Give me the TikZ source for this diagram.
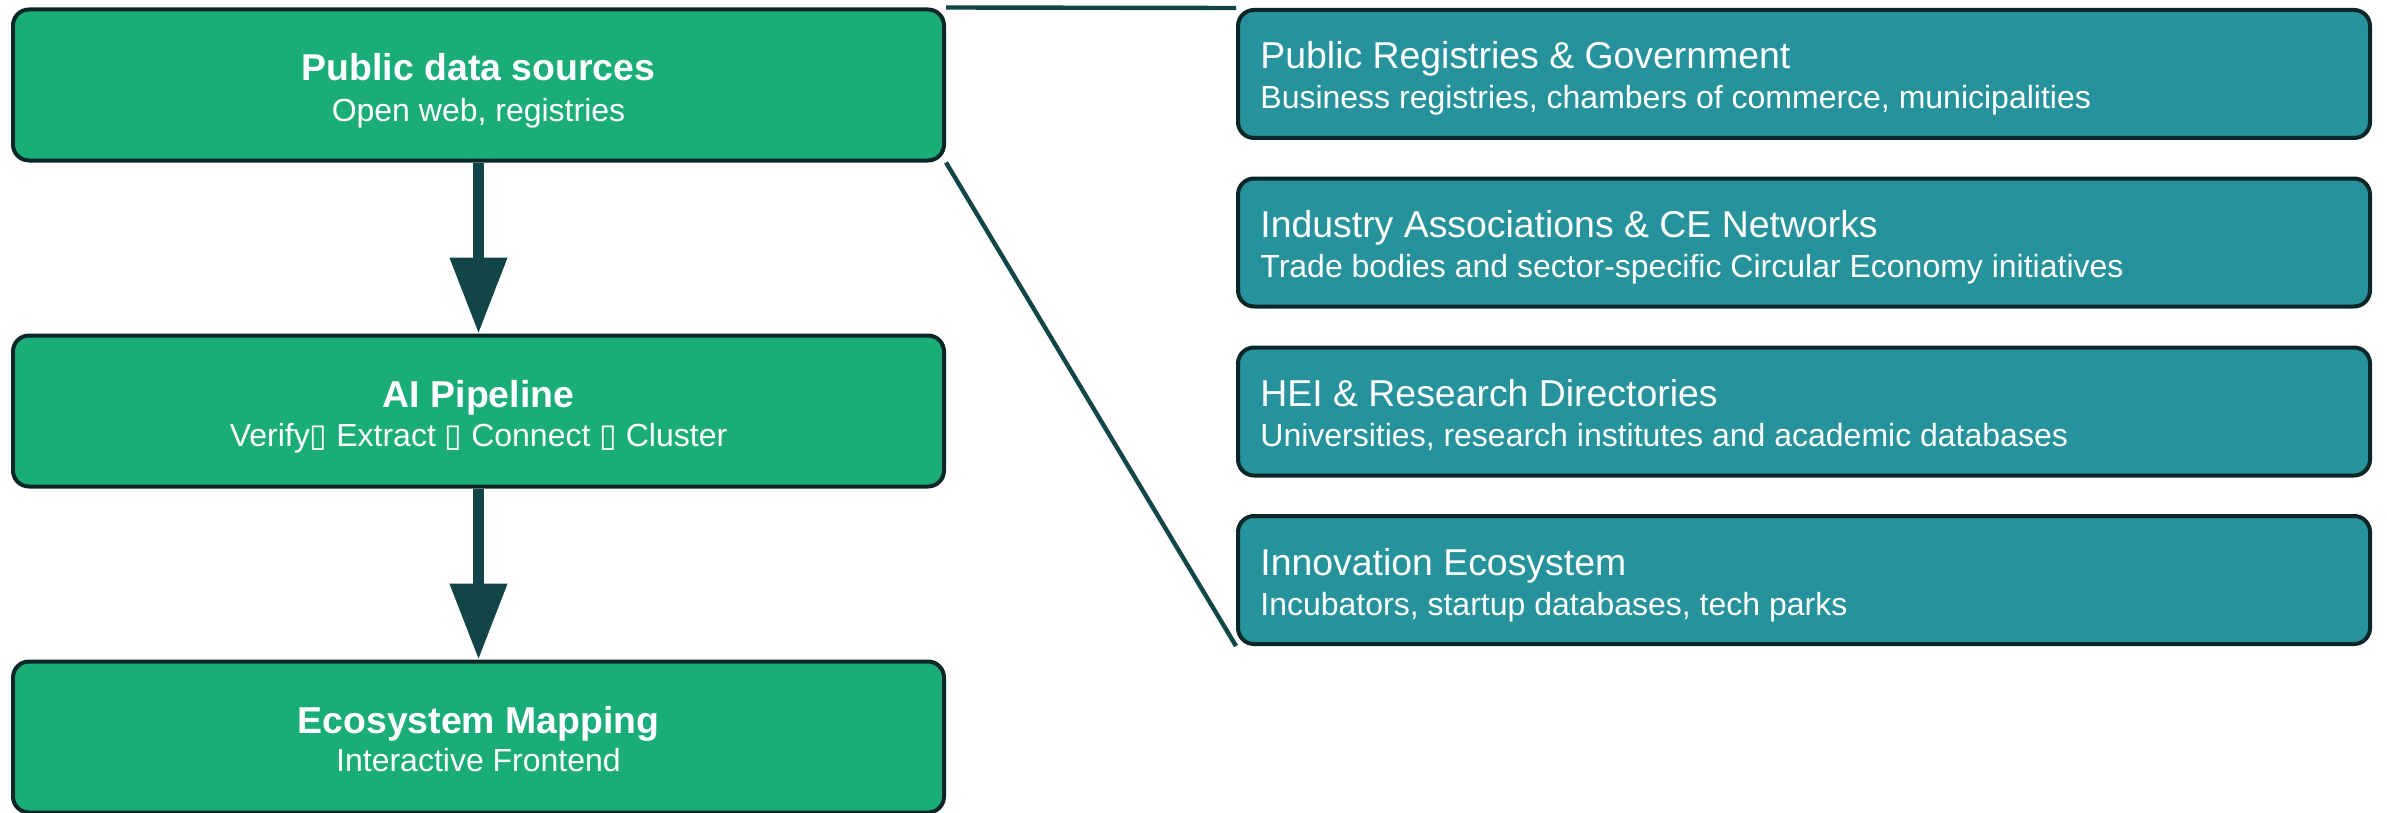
\documentclass[tikz,border=0pt]{standalone}
\usepackage{fontspec}
\setmainfont{Liberation Sans}
\newfontfamily\symfont{DejaVu Sans}
\usetikzlibrary{arrows.meta}
\definecolor{gfill}{HTML}{1AAD77}
\definecolor{tfill}{HTML}{25929C}
\definecolor{bord}{HTML}{0A2626}
\definecolor{conn}{HTML}{114547}
\tikzset{
  gbox/.style={draw=bord, fill=gfill, line width=2pt, rounded corners=8pt,
    minimum width=465.5pt, minimum height=75.5pt, inner sep=0pt},
  tbox/.style={draw=bord, fill=tfill, line width=2pt, rounded corners=8pt,
    minimum width=566pt, minimum height=64pt, inner sep=0pt},
  gtitle/.style={text=white, anchor=base, font=\fontsize{18.7}{22}\selectfont\bfseries, inner sep=0pt},
  gsub/.style={text=white, anchor=base, font=\fontsize{16}{19}\selectfont, inner sep=0pt},
  ttitle/.style={text=white, anchor=base west, font=\fontsize{18.7}{22}\selectfont, inner sep=0pt},
  tsub/.style={text=white, anchor=base west, font=\fontsize{16}{19}\selectfont, inner sep=0pt},
  flow/.style={draw=conn, line width=5.5pt, -{Triangle[length=38pt,width=27.5pt]}},
  zoomline/.style={draw=conn, line width=2.2pt},
}
\begin{document}
\begin{tikzpicture}[x=0.5pt,y=-0.5pt]
\useasboundingbox (0,0) rectangle (2387,813);
% left boxes
\node[gbox] (b1) at (478.5,85) {};
\node[gbox] (b2) at (478.5,411) {};
\node[gbox] (b3) at (478.5,737) {};
\node[gtitle] (b1t) at (478.5,81) {Public data sources};
\node[gsub] (b1s) at (478.5,121) {Open web, registries};
\node[gtitle] (b2t) at (478.5,407) {AI Pipeline};
\node[gsub] (b2s) at (478.5,446) {Verify{\symfont ▯} Extract {\symfont ▯} Connect {\symfont ▯} Cluster};
\node[gtitle] (b3t) at (478.5,733) {Ecosystem Mapping};
\node[gsub] (b3s) at (478.5,771) {Interactive Frontend};
% arrows
\draw[flow] (b1.south) -- (b2.north);
\draw[flow] (b2.south) -- (b3.north);
% right boxes
\node[tbox] (rA) at (1804,74) {};
\node[tbox] (rB) at (1804,242.5) {};
\node[tbox] (rC) at (1804,411.5) {};
\node[tbox] (rD) at (1804,580) {};
\node[ttitle] (rAt) at (1260,69) {Public Registries \& Government};
\node[tsub] (rAs) at (1260,109) {Business registries, chambers of commerce, municipalities};
\node[ttitle] (rBt) at (1260,237.5) {Industry Associations \& CE Networks};
\node[tsub] (rBs) at (1260,277.5) {Trade bodies and sector-specific Circular Economy initiatives};
\node[ttitle] (rCt) at (1260,406.5) {HEI \& Research Directories};
\node[tsub] (rCs) at (1260,446.5) {Universities, research institutes and academic databases};
\node[ttitle] (rDt) at (1260,575) {Innovation Ecosystem};
\node[tsub] (rDs) at (1260,615) {Incubators, startup databases, tech parks};
% zoom lines
\draw[zoomline] (b1.north east) -- (rA.north west);
\draw[zoomline] (b1.south east) -- (rD.south west);
\end{tikzpicture}
\end{document}
